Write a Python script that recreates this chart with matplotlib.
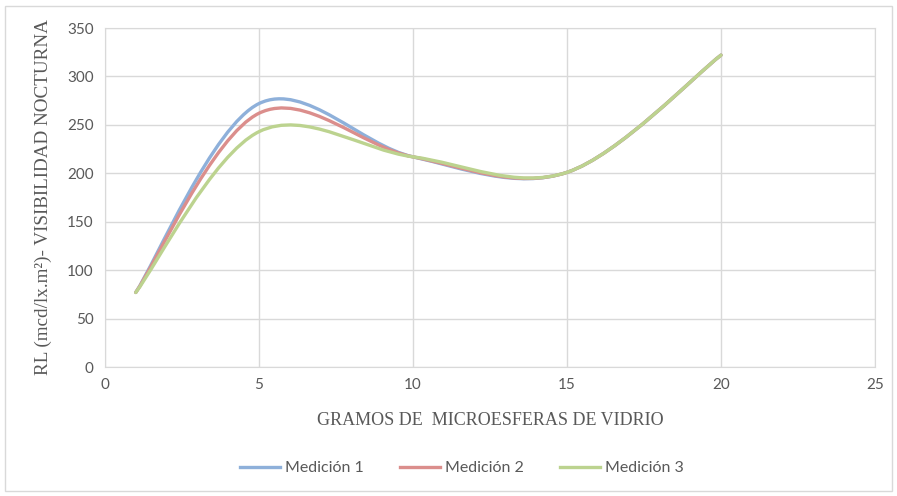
import numpy as np
import matplotlib
matplotlib.use("Agg")
import matplotlib.pyplot as plt
from matplotlib.path import Path
from matplotlib.patches import PathPatch, Rectangle
from matplotlib.lines import Line2D

# data
gramos = [1, 5, 10, 15, 20]
medicion_1 = [77, 272, 217, 201, 322]
medicion_2 = [77, 262, 217, 201, 322]
medicion_3 = [77, 243, 217, 201, 322]

series = [
    ("Medición 1", medicion_1, "#8eb0da"),
    ("Medición 2", medicion_2, "#db8e8c"),
    ("Medición 3", medicion_3, "#bcd38f"),
]


def smooth_path(x, y):
    # Excel-style smoothed line: cubic Bezier through each point
    pts = np.column_stack([x, y]).astype(float)
    ext = np.vstack([pts[0], pts, pts[-1]])
    verts = [pts[0]]
    codes = [Path.MOVETO]
    for i in range(len(pts) - 1):
        p0, p1, p2, p3 = ext[i], ext[i + 1], ext[i + 2], ext[i + 3]
        verts += [p1 + (p2 - p0) / 6, p2 - (p3 - p1) / 6, p2]
        codes += [Path.CURVE4] * 3
    return Path(verts, codes)


fig = plt.figure(figsize=(8.97, 4.96), dpi=100)
ax = fig.add_axes([0.117, 0.26, 0.8585, 0.6835])

handles = []
for name, vals, color in series:
    patch = PathPatch(smooth_path(gramos, vals), facecolor="none",
                      edgecolor=color, lw=2.4, capstyle="round")
    ax.add_patch(patch)
    handles.append(Line2D([], [], color=color, lw=2.4, label=name))

ax.set_xlim(0, 25)
ax.set_ylim(0, 350)
ax.set_xticks(range(0, 26, 5))
ax.set_yticks(range(0, 351, 50))
ax.grid(True, color="#d9d9d9", lw=1)
ax.set_axisbelow(True)
for s in ax.spines.values():
    s.set_color("#d9d9d9")
ax.tick_params(length=0, labelsize=11, labelcolor="#595959", pad=8)
for lab in ax.get_xticklabels() + ax.get_yticklabels():
    lab.set_family("Lato")

ax.set_xlabel("GRAMOS DE  MICROESFERAS DE VIDRIO", family="Liberation Serif",
              fontsize=13, color="#595959", labelpad=14)
ax.set_ylabel("RL (mcd/lx.m²)- VISIBILIDAD NOCTURNA", family="Liberation Serif",
              fontsize=13.8, color="#595959", labelpad=11)

fig.legend(handles=handles, loc="center", bbox_to_anchor=(0.515, 0.056), ncol=3,
           frameon=False, handlelength=2.5, handletextpad=0.3, columnspacing=2.3,
           prop={"family": "Lato", "size": 11.5}, labelcolor="#595959")

fig.patches.append(Rectangle((0.006, 0.01), 0.988, 0.978, transform=fig.transFigure,
                             fill=False, edgecolor="#d9d9d9", lw=1))

fig.savefig("out.png", dpi=100)
